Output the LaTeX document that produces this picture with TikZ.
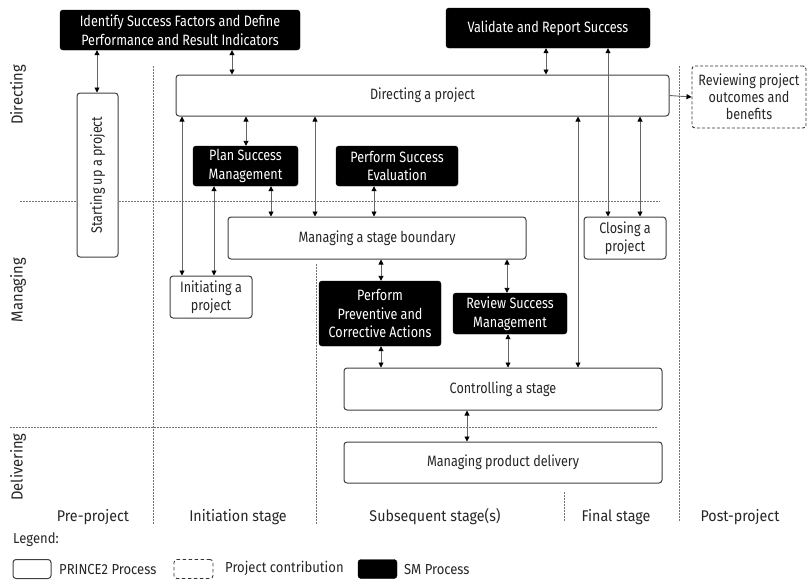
\documentclass[tikz,border=0pt]{standalone}
\usepackage{fontspec}
\setmainfont{Fira Sans}[FakeStretch=0.84]
\newfontfamily\lanefont{Fira Sans}[FakeStretch=0.92]
\newfontfamily\legfont{Fira Sans}[FakeStretch=0.9]
\usetikzlibrary{arrows.meta}
\begin{document}
\begin{tikzpicture}[x=1pt,y=-1pt,
  every node/.style={font=\fontsize{15}{18.5}\selectfont, align=center, inner sep=1pt},
  pbox/.style={draw=black!75, line width=1pt, rounded corners=3pt, fill=white, text=black!85},
  sbox/.style={draw=black, fill=black, rounded corners=3pt, text=white},
  cbox/.style={draw=black!80, line width=0.9pt, dashed, dash pattern=on 3pt off 2pt, rounded corners=3pt, text=black!85},
  dbl/.style={draw=black!60, line width=0.9pt, {Triangle[length=5pt,width=5pt,black]}-{Triangle[length=5pt,width=5pt,black]}},
  sgl/.style={draw=black!60, line width=0.9pt, -{Triangle[length=5pt,width=5pt,black]}},
  sep/.style={draw=black!55, line width=0.5pt, dash pattern=on 1.5pt off 1.5pt},
  lane/.style={font=\lanefont\fontsize{16}{19}\selectfont, text=black!85, rotate=90},
  stage/.style={font=\lanefont\fontsize{15.5}{18}\selectfont, text=black!85},
  legtext/.style={font=\legfont\fontsize{14.5}{16}\selectfont, text=black!85, anchor=west},
]
\useasboundingbox (0,0) rectangle (808,581);

% separators
\draw[sep] (20,201) -- (660,201);
\draw[sep] (10,427) -- (658,427);
\draw[sep] (153,66) -- (153,524);
\draw[sep] (316,264) -- (316,524);
\draw[sep] (564,492) -- (564,522);
\draw[sep] (679,66) -- (679,522);

% SM process boxes
\node[sbox, minimum width=240, minimum height=40] (ident) at (180,30) {Identify Success Factors and Define\\Performance and Result Indicators};
\node[sbox, minimum width=204, minimum height=40] (valid) at (548,28) {Validate and Report Success};
\node[sbox, minimum width=105, minimum height=40] (plan) at (245.5,166) {Plan Success\\Management};
\node[sbox, minimum width=122, minimum height=40] (peval) at (397,166) {Perform Success\\Evaluation};
\node[sbox, minimum width=122, minimum height=65] (prev) at (380,313.5) {Perform\\Preventive and\\Corrective Actions};
\node[sbox, minimum width=114, minimum height=41] (revsm) at (510,313.5) {Review Success\\Management};

% PRINCE2 processes
\node[pbox, minimum width=493, minimum height=41] (direct) at (422.5,95.5) {Directing a project};
\node[pbox, minimum width=164, minimum height=41, rotate=90] (start) at (97.5,175) {Starting up a project};
\node[pbox, minimum width=298, minimum height=42] (msb) at (377,238) {Managing a stage boundary};
\node[pbox, minimum width=82, minimum height=42] (close) at (625,238) {Closing a\\project};
\node[pbox, minimum width=82, minimum height=42] (init) at (211,297) {Initiating a\\project};
\node[pbox, minimum width=318, minimum height=42] (ctrl) at (503,389) {Controlling a stage};
\node[pbox, minimum width=318, minimum height=41] (mpd) at (503,462.5) {Managing product delivery};

% project contribution
\node[cbox, minimum width=114, minimum height=62, font=\fontsize{15}{17}\selectfont] (revw) at (749,97) {Reviewing project\\outcomes and\\benefits};

% connectors
\draw[dbl] (97,0 |- ident.south) -- (97,0 |- start.east);
\draw[dbl] (232,0 |- ident.south) -- (232,0 |- direct.north);
\draw[dbl] (546,0 |- valid.south) -- (546,0 |- direct.north);
\draw[sgl] (direct.east) -- (revw.west);
\draw[dbl] (182,0 |- direct.south) -- (182,0 |- init.north);
\draw[dbl] (246,0 |- direct.south) -- (246,0 |- plan.north);
\draw[dbl] (315,0 |- direct.south) -- (315,0 |- msb.north);
\draw[dbl] (214,0 |- plan.south) -- (214,0 |- init.north);
\draw[dbl] (271,0 |- plan.south) -- (271,0 |- msb.north);
\draw[dbl] (374,0 |- peval.south) -- (374,0 |- msb.north);
\draw[dbl] (578,0 |- direct.south) -- (578,0 |- ctrl.north);
\draw[dbl] (608,0 |- valid.south) -- (608,0 |- close.north);
\draw[dbl] (640,0 |- direct.south) -- (640,0 |- close.north);
\draw[dbl] (381,0 |- msb.south) -- (381,0 |- prev.north);
\draw[dbl] (507,0 |- msb.south) -- (507,0 |- revsm.north);
\draw[dbl] (381,0 |- prev.south) -- (381,0 |- ctrl.north);
\draw[dbl] (508,0 |- revsm.south) -- (508,0 |- ctrl.north);
\draw[dbl] (467,0 |- ctrl.south) -- (467,0 |- mpd.north);

% lane labels
\node[lane] (lD) at (18,95) {Directing};
\node[lane] (lM) at (18,290) {Managing};
\node[lane] (lDl) at (18,467) {Delivering};

% stage labels
\node[stage] (s1) at (93,517) {Pre-project};
\node[stage] (s2) at (238,517) {Initiation stage};
\node[stage] (s3) at (435,517) {Subsequent stage(s)};
\node[stage] (s4) at (616,517) {Final stage};
\node[stage] (s5) at (740,517) {Post-project};

% legend
\node[legtext] (leg) at (12,540) {Legend:};
\node[pbox, minimum width=38, minimum height=19] (lg1) at (32,569) {};
\node[legtext] (lt1) at (58,569) {PRINCE2 Process};
\node[cbox, minimum width=39, minimum height=19, dash pattern=on 3.5pt off 2.5pt] (lg2) at (193.5,569) {};
\node[legtext] (lt2) at (224,568) {Project contribution};
\node[sbox, minimum width=39, minimum height=19] (lg3) at (377.5,569) {};
\node[legtext] (lt3) at (403,569) {SM Process};
\end{tikzpicture}
\end{document}
